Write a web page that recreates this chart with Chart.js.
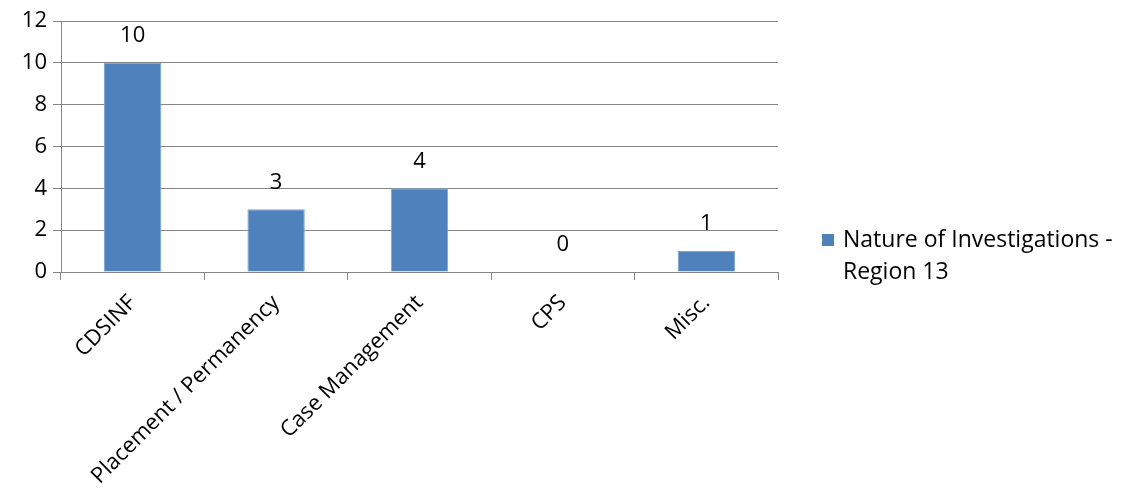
<!DOCTYPE html>
<html>
<head>
<meta charset="utf-8">
<script src="https://cdn.jsdelivr.net/npm/chart.js@4/dist/chart.umd.min.js"></script>
<style>
  html, body { margin: 0; padding: 0; background: #fff; }
  #wrap { width: 1121px; height: 500px; }
</style>
</head>
<body>
<div id="wrap"><canvas id="grafico"></canvas></div>
<script>
// dados do gráfico
var categorias = ['CDSINF', 'Placement / Permanency', 'Case Management', 'CPS', 'Misc.'];
var valores = [10, 3, 4, 0, 1];
var nomeSerie = ['Nature of Investigations -', 'Region 13'];

var fonte = '"Open Sans", Lato, sans-serif';
var tamanho = 22;
var cinza = '#868686';

// rótulos em cima das barras
var rotulosBarras = {
  id: 'rotulosBarras',
  afterDatasetsDraw: function (chart) {
    var ctx = chart.ctx;
    var meta = chart.getDatasetMeta(0);
    ctx.save();
    ctx.font = tamanho + 'px ' + fonte;
    ctx.fillStyle = '#000';
    ctx.textAlign = 'center';
    ctx.textBaseline = 'middle';
    meta.data.forEach(function (barra, i) {
      ctx.fillText(String(valores[i]), barra.x, barra.y - 27);
    });
    ctx.restore();
  }
};

// legenda desenhada à mão (duas linhas)
var legenda = {
  id: 'legenda',
  afterDraw: function (chart) {
    var ctx = chart.ctx;
    var x = chart.chartArea.right + 44;
    var y = 240;
    ctx.save();
    ctx.fillStyle = '#4F81BD';
    ctx.fillRect(x, y - 6, 12, 12);
    ctx.fillStyle = '#000';
    ctx.font = '23px ' + fonte;
    ctx.textAlign = 'left';
    ctx.textBaseline = 'middle';
    nomeSerie.forEach(function (linha, i) {
      ctx.fillText(linha, x + 21, y + i * 32);
    });
    ctx.restore();
  }
};

var config = {
  type: 'bar',
  data: {
    labels: categorias,
    datasets: [{
      label: nomeSerie.join(' '),
      data: valores,
      backgroundColor: '#4F81BD',
      borderColor: '#7FA3D0',
      borderWidth: 1,
      barPercentage: 0.4,
      categoryPercentage: 1
    }]
  },
  options: {
    responsive: true,
    maintainAspectRatio: false,
    animation: false,
    layout: { padding: { top: 21, right: 343, left: 0, bottom: 0 } },
    plugins: {
      legend: { display: false },
      tooltip: { enabled: false }
    },
    scales: {
      x: {
        grid: {
          offset: true,
          drawOnChartArea: false,
          drawTicks: true,
          tickLength: 8,
          color: cinza
        },
        border: { color: cinza, width: 1 },
        ticks: {
          color: '#000',
          font: { family: fonte, size: tamanho },
          minRotation: 45,
          maxRotation: 45,
          padding: 10
        },
        afterFit: function (scale) { scale.height = 228; }
      },
      y: {
        min: 0,
        max: 12,
        ticks: {
          stepSize: 2,
          color: '#000',
          font: { family: fonte, size: tamanho },
          padding: 6
        },
        grid: {
          color: cinza,
          tickLength: 8,
          drawTicks: true
        },
        border: { color: cinza, width: 1 },
        afterFit: function (scale) { scale.width = 61; }
      }
    }
  },
  plugins: [rotulosBarras, legenda]
};

var ctxGrafico = document.getElementById('grafico').getContext('2d');
new Chart(ctxGrafico, config);
</script>
</body>
</html>
